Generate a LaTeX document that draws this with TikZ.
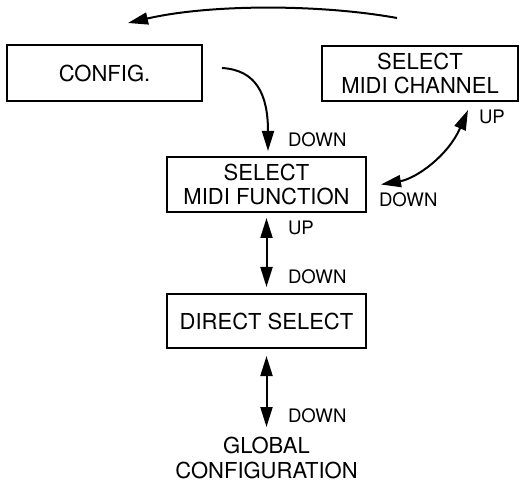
\documentclass[tikz,border=0pt]{standalone}
\usepackage{fontspec}
\setmainfont{TeX Gyre Heros}
\usetikzlibrary{arrows.meta, calc}
\tikzset{>={Triangle[length=10pt,width=6pt]}}
\tikzset{
    menubox/.style={draw, line width=1pt, align=center, inner sep=0pt, font=\fontsize{11}{12}\selectfont},
    keylabel/.style={anchor=west, inner sep=0pt, font=\fontsize{9.3}{11}\selectfont}
}

\begin{document}
\begin{tikzpicture}[x=0.5pt, y=-0.5pt, line width=1pt]
    \useasboundingbox (0,0) rectangle (531,481);
    \node [menubox, minimum width=97.5pt, minimum height=28pt] (config) at (104.5,73) {CONFIG.};
    \node [menubox, minimum width=98pt, minimum height=27.5pt] (channel) at (420,73.5) {SELECT\\MIDI CHANNEL};
    \node [menubox, minimum width=99.5pt, minimum height=27.5pt] (function) at (266.5,184.5) {SELECT\\MIDI FUNCTION};
    \node [menubox, minimum width=99.5pt, minimum height=27pt] (direct) at (266.5,321) {DIRECT SELECT};
    \node [align=center, inner sep=0pt, anchor=north, font=\fontsize{11}{12.5}\selectfont] (global) at (266.5,436) {GLOBAL\\CONFIGURATION};
    \draw [->] ($(channel.north)+(-23,-27)$) .. controls +(-77,-14) and +(82,-19) .. ($(config.north)+(23.5,-21)$);
    \draw [->] ($(config.east)+(19,-5)$) .. controls +(34,2) and +(0,-57) .. ($(function.north)+(1.5,-5)$);
    \draw [<->] ($(function.east)+(14,0)$) .. controls +(35,-6) and +(-20,46) .. ($(channel.south)+(48,8)$);
    \draw [<->, shorten <=2.5pt, shorten >=3pt] (function.south) -- (direct.north);
    \draw [<->, shorten <=3.5pt, shorten >=4.5pt] (direct.south) -- (global.north);
    \node [keylabel] (cfgdown) at (287,140) {DOWN};
    \node [keylabel] (chup) at (478,117) {UP};
    \node [keylabel] (chdown) at (378,200) {DOWN};
    \node [keylabel] (fnup) at (287,228) {UP};
    \node [keylabel] (fndown) at (287,277) {DOWN};
    \node [keylabel] (gldown) at (287,416) {DOWN};
\end{tikzpicture}
\end{document}
